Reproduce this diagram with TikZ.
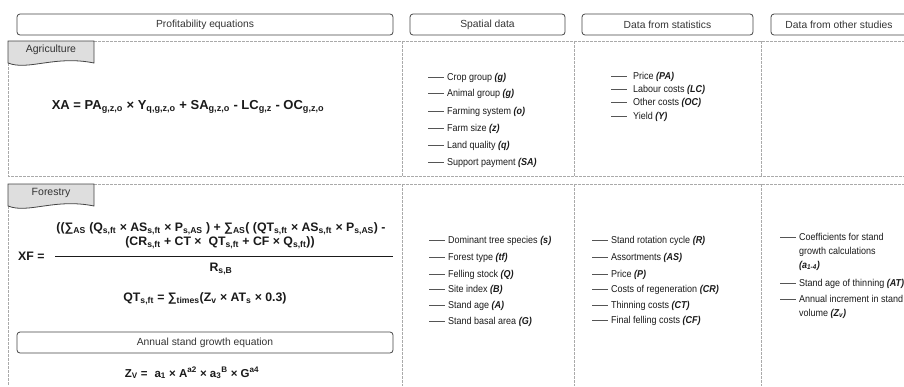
\documentclass[tikz,border=0pt]{standalone}
\usepackage{fontspec}
\setmainfont{Liberation Sans}
\newfontfamily\listfont[FakeStretch=0.9]{Liberation Sans}
\definecolor{textdark}{HTML}{1A1A1A}
\definecolor{textgray}{HTML}{333333}
\definecolor{boxgray}{HTML}{444444}
\definecolor{gridgray}{HTML}{AAAAAA}
\definecolor{tabfill}{HTML}{DEDEDE}
\definecolor{dashgray}{HTML}{555555}
\newcommand{\ldash}[1][3pt]{\textcolor{dashgray}{\rule[2.8pt]{16pt}{0.7pt}}\hspace{#1}}
\newcommand{\vb}[1]{\textbf{\textit{#1}}}
\tikzset{
  hdr/.style={draw=boxgray, line width=0.8pt, rounded corners=3pt,
    minimum height=21pt, inner sep=0pt, text=textgray,
    font=\fontsize{10.3}{12}\selectfont},
  grid/.style={gridgray, line width=0.6pt, dash pattern=on 2.5pt off 1.5pt},
  tabbox/.style={draw=boxgray, fill=tabfill, line width=0.8pt},
  tabtext/.style={inner sep=0pt, text=textgray, font=\fontsize{10.5}{12}\selectfont},
  eqn/.style={inner sep=0pt, text=textdark, font=\fontsize{12.3}{15}\selectfont\bfseries},
  item/.style={anchor=base west, inner sep=0pt, text=textdark,
    font=\listfont\fontsize{10}{14}\selectfont}
}
\begin{document}
\begin{tikzpicture}[x=1pt, y=-1pt]
\useasboundingbox (0,0) rectangle (904,386);

% column headers
\node[hdr, minimum width=376pt] (hprof) at (205,24.5) {Profitability equations};
\node[hdr, minimum width=155pt] (hspat) at (487.5,24.5) {Spatial data};
\node[hdr, minimum width=171pt] (hstat) at (667.5,24.5) {Data from statistics};
\node[hdr, minimum width=136pt] (hoth) at (839,24.5) {Data from other studies};

% agriculture block
\draw[grid] (94,41) -- (904,41);
\draw[grid] (8,63) -- (8,176) -- (904,176);
\draw[grid] (402,41) -- (402,176);
\draw[grid] (574,41) -- (574,176);
\draw[grid] (761,41) -- (761,176);
\draw[tabbox] (8,41) -- (94,41) -- (94,63) .. controls (55,55) and (28,71) .. (8,63) -- cycle;
\node[tabtext] (tagri) at (51,50) {Agriculture};

\node[eqn, font=\fontsize{13}{15}\selectfont\bfseries] (eqxa) at (188,107) {XA = PA\textsubscript{g,z,o} × Y\textsubscript{q,g,z,o} + SA\textsubscript{g,z,o} - LC\textsubscript{g,z} - OC\textsubscript{g,z,o}};

\node[item] (sa1) at (428,80) {\ldash Crop group \vb{(g)}};
\node[item] (sa2) at (428,96) {\ldash Animal group \vb{(g)}};
\node[item] (sa3) at (428,114) {\ldash Farming system \vb{(o)}};
\node[item] (sa4) at (428,131) {\ldash Farm size \vb{(z)}};
\node[item] (sa5) at (428,148) {\ldash Land quality \vb{(q)}};
\node[item] (sa6) at (428,165) {\ldash Support payment \vb{(SA)}};

\node[item] (ta1) at (611,79) {\ldash[6pt]Price \vb{(PA)}};
\node[item] (ta2) at (611,92) {\ldash[6pt]Labour costs \vb{(LC)}};
\node[item] (ta3) at (611,105) {\ldash[6pt]Other costs \vb{(OC)}};
\node[item] (ta4) at (611,119) {\ldash[6pt]Yield \vb{(Y)}};

% forestry block
\draw[grid] (94,184) -- (904,184);
\draw[grid] (8,206) -- (8,386);
\draw[grid] (402,184) -- (402,386);
\draw[grid] (574,184) -- (574,386);
\draw[grid] (761,184) -- (761,386);
\draw[tabbox] (8,184) -- (94,184) -- (94,206) .. controls (55,198) and (28,214) .. (8,206) -- cycle;
\node[tabtext] (tfor) at (51,193) {Forestry};

\node[eqn, anchor=west] (xf) at (18,256) {XF =};
\node[eqn] (num1) at (221,229) {((∑\textsubscript{AS} (Q\textsubscript{s,ft} × AS\textsubscript{s,ft} × P\textsubscript{s,AS} ) + ∑\textsubscript{AS}( (QT\textsubscript{s,ft} × AS\textsubscript{s,ft} × P\textsubscript{s,AS}) -};
\node[eqn] (num2) at (220,243) {(CR\textsubscript{s,ft} + CT ×\ \ QT\textsubscript{s,ft} + CF × Q\textsubscript{s,ft}))};
\draw[textdark, line width=0.9pt] (55,256) -- (393,256);
\node[eqn] (rsb) at (221,269) {R\textsubscript{s,B}};
\node[eqn] (qt) at (205,299) {QT\textsubscript{s,ft} = ∑\textsubscript{times}(Z\textsubscript{v} × AT\textsubscript{s} × 0.3)};
\node[hdr, minimum width=376pt] (hann) at (205,342.5) {Annual stand growth equation};
\node[eqn, font=\fontsize{11.5}{14}\selectfont\bfseries] (zv) at (192,373) {Z\textsubscript{V} =\hspace{0.6em}a\textsubscript{1} × A\textsuperscript{a2} × a\textsubscript{3}\textsuperscript{B} × G\textsuperscript{a4}};

\node[item] (sf1) at (429,243) {\ldash Dominant tree species \vb{(s)}};
\node[item] (sf2) at (429,260) {\ldash Forest type \vb{(tf)}};
\node[item] (sf3) at (429,277) {\ldash Felling stock \vb{(Q)}};
\node[item] (sf4) at (429,292) {\ldash Site index \vb{(B)}};
\node[item] (sf5) at (429,308) {\ldash Stand age \vb{(A)}};
\node[item] (sf6) at (429,324) {\ldash Stand basal area \vb{(G)}};

\node[item] (tf1) at (592,243) {\ldash Stand rotation cycle \vb{(R)}};
\node[item] (tf2) at (592,260) {\ldash Assortments \vb{(AS)}};
\node[item] (tf3) at (592,277) {\ldash Price \vb{(P)}};
\node[item] (tf4) at (592,292) {\ldash Costs of regeneration \vb{(CR)}};
\node[item] (tf5) at (592,308) {\ldash Thinning costs \vb{(CT)}};
\node[item] (tf6) at (592,323) {\ldash Final felling costs \vb{(CF)}};

\node[item] (of1) at (780,240) {\ldash\begin{tabular}[t]{@{}l@{}}Coefficients for stand\\growth calculations\\\vb{(a\textsubscript{1-4})}\end{tabular}};
\node[item] (of2) at (780,286) {\ldash Stand age of thinning \vb{(AT)}};
\node[item] (of3) at (780,302) {\ldash\begin{tabular}[t]{@{}l@{}}Annual increment in stand\\volume \vb{(Z\textsubscript{v})}\end{tabular}};
\end{tikzpicture}
\end{document}
